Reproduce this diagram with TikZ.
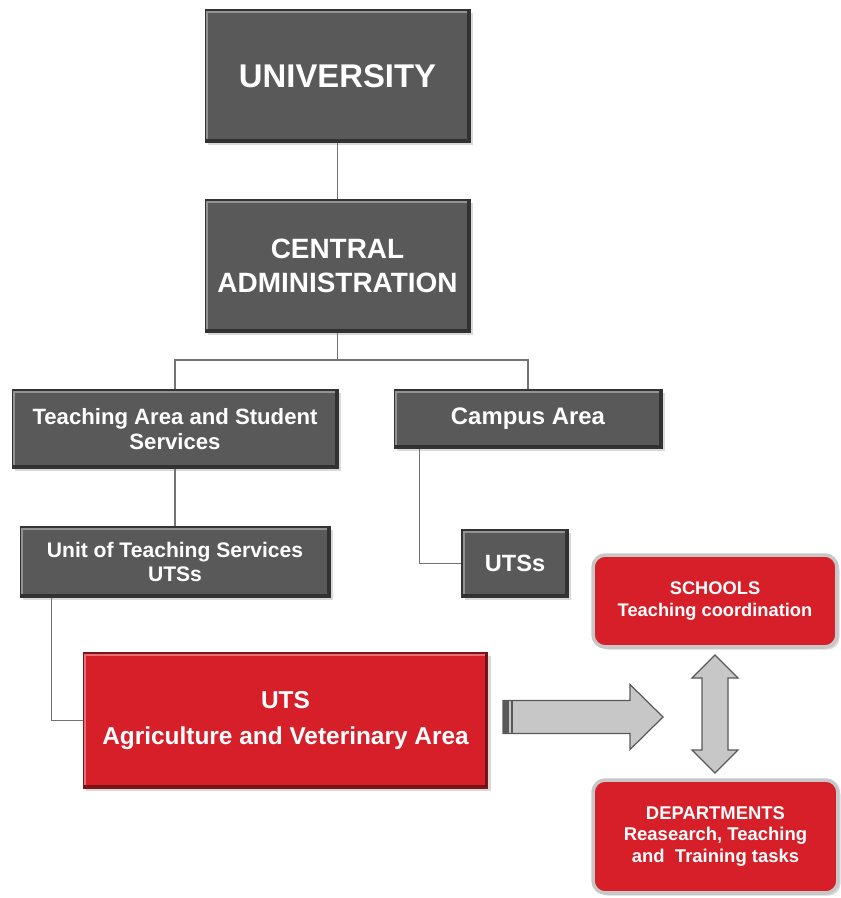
\documentclass[tikz,border=0pt]{standalone}
\usepackage{fontspec}
\setmainfont{Liberation Sans}
\usepackage{tikz}
\usetikzlibrary{calc,shadows}

\definecolor{boxgray}{HTML}{595959}
\definecolor{boxred}{HTML}{D71F2A}
\newcommand{\txtsize}[2]{\fontsize{#1pt}{#2pt}\selectfont\bfseries}

\begin{document}
\begin{tikzpicture}[x = 0.02cm, y = -0.02cm, line/.style = {draw = black!55, line width = 0.8pt}]
    % Medidas de las flechas grandes.
    \pgfmathsetmacro{\shaftH}{16.5}
    \pgfmathsetmacro{\headH}{32.5}
    \pgfmathsetmacro{\headL}{33}

    % Estilos de las cajas (bisel hecho a mano, sombra suave).
    \tikzset{
        bevel/.style = {path picture = {
            \draw[white!35!#1, line width = 3pt] (path picture bounding box.south west) -- (path picture bounding box.north west) -- (path picture bounding box.north east);
            \draw[black!45!#1, line width = 3pt] (path picture bounding box.north east) -- (path picture bounding box.south east) -- (path picture bounding box.south west);}},
        gbox/.style = {draw = black!80, line width = 0.6pt, fill = boxgray, bevel = boxgray, text = white, align = center, inner sep = 0pt,
            drop shadow = {shadow xshift = 1.5pt, shadow yshift = -1.5pt, opacity = 0.3}},
        rbox/.style = {gbox, fill = boxred, bevel = boxred, draw = boxred!60!black},
        sbox/.style = {draw = black!22, line width = 2pt, rounded corners = 7pt, fill = boxred, text = white, align = center, inner sep = 0pt,
            drop shadow = {shadow xshift = 1.5pt, shadow yshift = -1.5pt, opacity = 0.3}},
        bigarrow/.style = {draw = black!65, line width = 0.7pt, fill = black!22, line join = miter}
    }

    \useasboundingbox (0, 0) rectangle (840, 898);

    % Primero las cajas grises del organigrama:
    \node[gbox, minimum width = 5.3cm, minimum height = 2.64cm, font = \txtsize{18.7}{22}] (univ) at (337.5, 76) {UNIVERSITY};
    \node[gbox, minimum width = 5.3cm, minimum height = 2.64cm, font = \txtsize{15.9}{19}] (admin) at (337.5, 266) {CENTRAL\\ADMINISTRATION};
    \node[gbox, minimum width = 6.52cm, minimum height = 1.56cm, font = \txtsize{12.6}{14.4}] (teach) at (175, 429) {Teaching Area and Student\\Services};
    \node[gbox, minimum width = 5.36cm, minimum height = 1.16cm, font = \txtsize{13.6}{15}] (campus) at (528, 419) {Campus Area};
    \node[gbox, minimum width = 6.2cm, minimum height = 1.4cm, font = \txtsize{12}{13.6}] (unit) at (175, 562) {Unit of Teaching Services\\UTSs};
    \node[gbox, minimum width = 2.12cm, minimum height = 1.34cm, font = \txtsize{13.4}{15}] (utsB) at (515, 563.5) {UTSs};

    % Cajas rojas:
    \node[rbox, minimum width = 8.1cm, minimum height = 2.7cm, font = \txtsize{13.9}{20.8}] (utsA) at (285.5, 720.5) {UTS\\Agriculture and Veterinary Area};
    \node[sbox, minimum width = 4.88cm, minimum height = 1.84cm, font = \txtsize{10.4}{12.4}] (schools) at (715, 601) {SCHOOLS\\Teaching coordination};
    \node[sbox, minimum width = 4.9cm, minimum height = 2.26cm, font = \txtsize{10.5}{12.4}] (depts) at (715.5, 836.5) {DEPARTMENTS\\Reasearch, Teaching\\and~~Training tasks};

    % Conectores:
    \coordinate (bus) at (337.5, 360);
    \draw[line] (univ) -- (admin);
    \draw[line] (admin) -- (bus);
    \draw[line] (bus) -| (teach);
    \draw[line] (bus) -| (campus);
    \draw[line] (teach) -- (unit);
    \draw[line] ($(campus.south west) + (26, 0)$) |- (utsB);
    \draw[line] ($(unit.south west) + (32, 0)$) |- (utsA);

    % Flecha horizontal hacia las escuelas y departamentos.
    \begin{scope}[shift = {(503, 717)}]
        \draw[bigarrow] (0, -\shaftH) -- (160 - \headL, -\shaftH) -- (160 - \headL, -\headH) -- (160, 0)
            -- (160 - \headL, \headH) -- (160 - \headL, \shaftH) -- (0, \shaftH) -- cycle;
        \fill[black!65] (0, -\shaftH) rectangle (5.5, \shaftH);
        \draw[black!65, line width = 0.7pt] (9, -\shaftH) -- (9, \shaftH);
    \end{scope}

    % Flecha doble vertical:
    \begin{scope}[shift = {(715, 714)}]
        \draw[bigarrow] (0, -59) -- (23, -59 + 23) -- (13, -59 + 23) -- (13, 59 - 23) -- (23, 59 - 23) -- (0, 59)
            -- (-23, 59 - 23) -- (-13, 59 - 23) -- (-13, -59 + 23) -- (-23, -59 + 23) -- cycle;
    \end{scope}

\end{tikzpicture}
\end{document}
